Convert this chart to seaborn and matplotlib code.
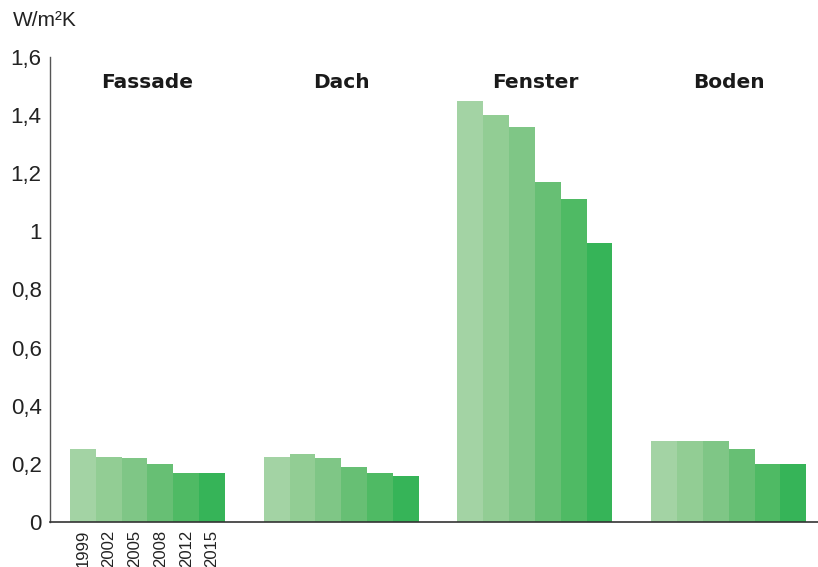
import matplotlib
matplotlib.use("Agg")
import matplotlib.pyplot as plt
import seaborn as sns
import pandas as pd

# U-values (W/m²K) by building component and regulation year
categories = ["Fassade", "Dach", "Fenster", "Boden"]
years = ["1999", "2002", "2005", "2008", "2012", "2015"]
fassade = [0.25, 0.225, 0.22, 0.20, 0.17, 0.17]
dach = [0.225, 0.235, 0.22, 0.19, 0.17, 0.16]
fenster = [1.45, 1.40, 1.36, 1.17, 1.11, 0.96]
boden = [0.28, 0.28, 0.28, 0.25, 0.20, 0.20]
y_ticks = [0, 0.2, 0.4, 0.6, 0.8, 1.0, 1.2, 1.4, 1.6]
y_tick_labels = ["0", "0,2", "0,4", "0,6", "0,8", "1", "1,2", "1,4", "1,6"]

palette = ["#a3d3a4", "#92cd94", "#7fc686", "#67bf74", "#4fba64", "#36b458"]

rows = []
for cat, vals in zip(categories, [fassade, dach, fenster, boden]):
    for yr, v in zip(years, vals):
        rows.append({"Bauteil": cat, "Jahr": yr, "U": v})
df = pd.DataFrame(rows)

sns.set_style("white")
plt.rcParams["font.family"] = ["Liberation Sans", "DejaVu Sans"]

fig = plt.figure(figsize=(8.18, 5.67), dpi=100)
ax = fig.add_axes([50 / 818, 45 / 567, 768 / 818, 465 / 567])

sns.barplot(data=df, x="Bauteil", y="U", hue="Jahr", order=categories,
            hue_order=years, palette=palette, width=0.8, linewidth=0,
            saturation=1, legend=False, ax=ax)

ax.set_ylim(0, 1.6)
ax.set_xlim(-0.503, 3.461)
ax.set_yticks(y_ticks)
ax.set_yticklabels(y_tick_labels, fontsize=16, color="#222222")

# year labels under the first group's bars
centers = [c.patches[0].get_x() + c.patches[0].get_width() / 2 for c in ax.containers]
ax.set_xticks(centers)
ax.set_xticklabels(years, rotation=90, fontsize=12, color="#222222",
                   va="top")
ax.tick_params(axis="both", length=0)
ax.tick_params(axis="x", pad=5.5)
ax.tick_params(axis="y", pad=6)
ax.set_xlabel("")
ax.set_ylabel("")

for side in ["top", "right"]:
    ax.spines[side].set_visible(False)
ax.spines["left"].set_color("#555555")
ax.spines["left"].set_linewidth(1.0)
ax.spines["bottom"].set_color("#333333")
ax.spines["bottom"].set_linewidth(1.2)

# group headers
for i, cat in enumerate(categories):
    ax.text(i, 1.512, cat, ha="center", va="center", fontsize=14.5,
            fontweight="bold", color="#1a1a1a", family=["DejaVu Sans"])

fig.text(13 / 818, 1 - 20 / 567, "W/m²K", ha="left", va="center",
         fontsize=15, color="#222222")

fig.savefig("out.png", dpi=100)
